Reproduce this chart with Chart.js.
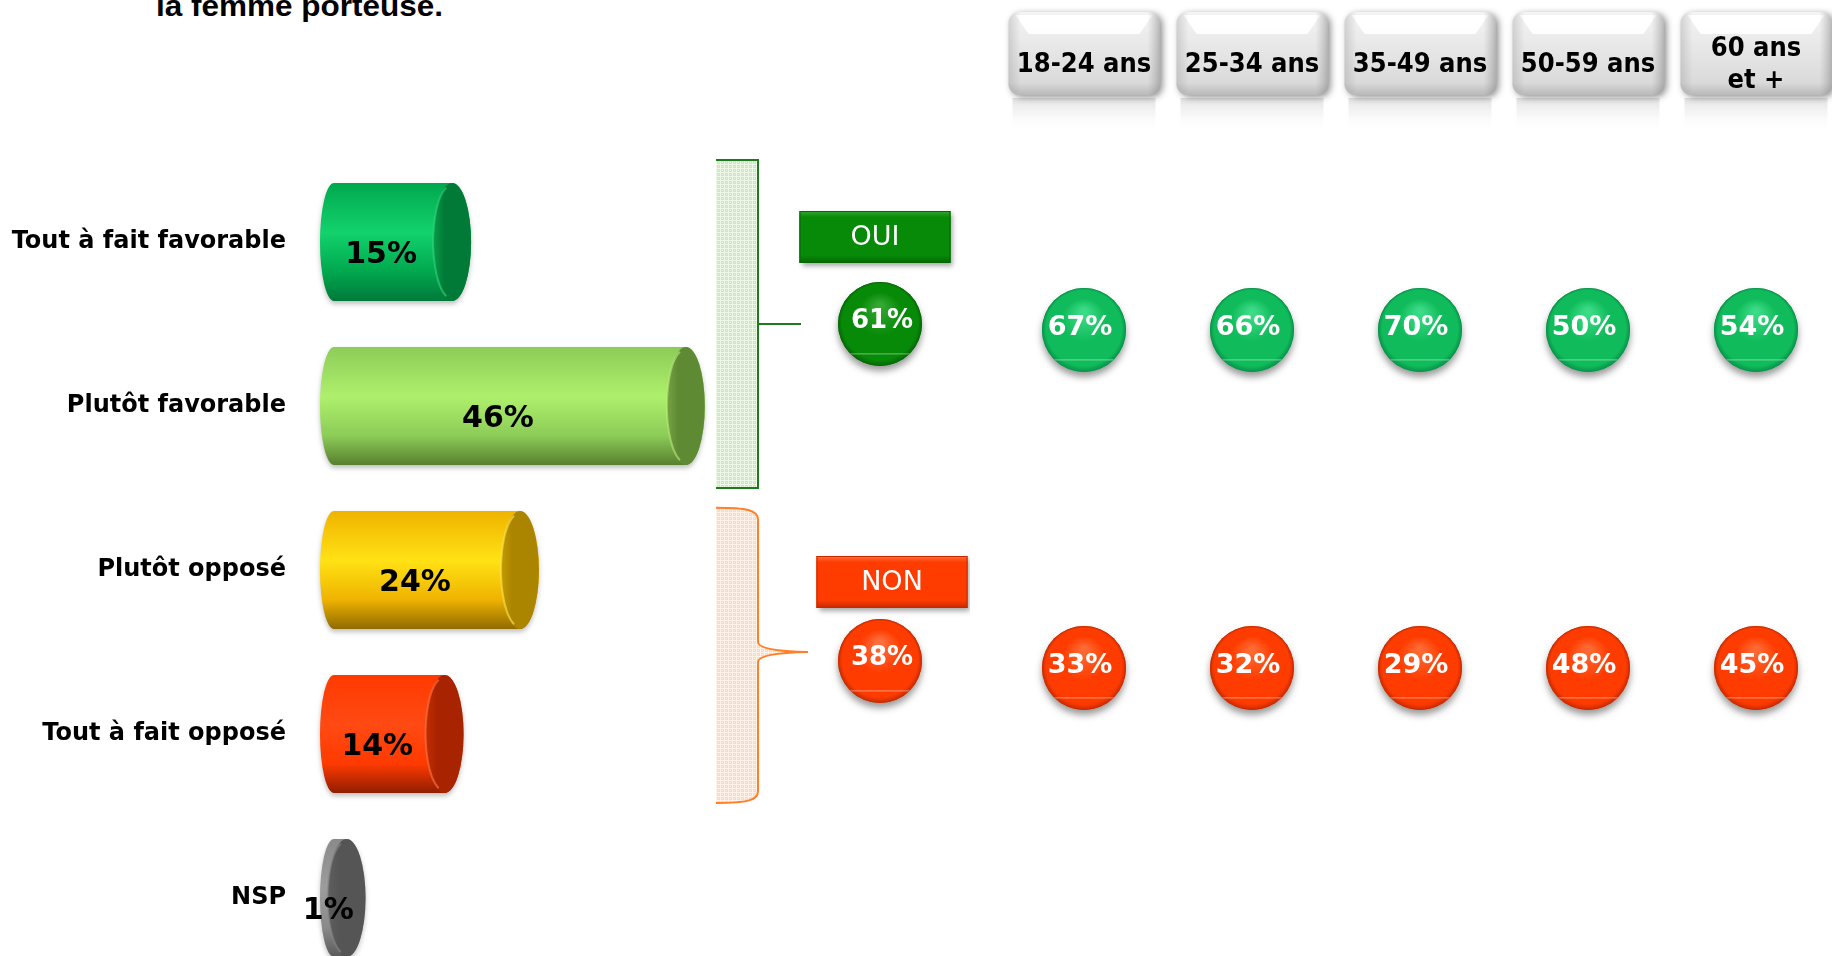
<!DOCTYPE html>
<html><head><meta charset="utf-8">
<script src="https://cdn.jsdelivr.net/npm/chart.js@4.4.1/dist/chart.umd.min.js"></script>
<style>
html,body{margin:0;padding:0;background:#fff;width:1832px;height:956px;overflow:hidden;position:relative;}
#title{position:absolute;left:156px;top:-11px;font:bold 30px "Liberation Sans",Arial,sans-serif;line-height:34px;color:#000;white-space:nowrap;transform:scaleX(1.05);transform-origin:0 0;}
canvas{position:absolute;top:0;}
</style></head><body>
<div id="title">la femme porteuse.</div>
<canvas id="bars" width="820" height="1000" style="left:0"></canvas>
<canvas id="tot" width="180" height="956" style="left:790px"></canvas>
<canvas id="ages" width="840" height="956" style="left:1000px"></canvas>
<script>
const FONT = '"DejaVu Sans", Verdana, sans-serif';

// ---- data ----
const categories = ['Tout à fait favorable','Plutôt favorable','Plutôt opposé','Tout à fait opposé','NSP'];
const values = [15,46,24,14,1];
const groups = ['OUI','NON'];
const totals = [61,38];
const ageGroups = ['18-24 ans','25-34 ans','35-49 ans','50-59 ans','60 ans\net +'];
const ouiByAge = [67,66,70,50,54];
const nonByAge = [33,32,29,48,45];

// ---- styles ----
const barColors = [
 {top:'#00a84e', mid:'#12d26c', bot:'#00793a', cap:'#007a36', capHi:'#0a9c4a', rim:'#33d57c'},
 {top:'#8ccc58', mid:'#aef06c', bot:'#587f2e', cap:'#5f8a34', capHi:'#74a443', rim:'#b9ec7c'},
 {top:'#efb300', mid:'#ffe214', bot:'#8f6a00', cap:'#ab8400', capHi:'#c49c00', rim:'#ffe45a'},
 {top:'#ff3a00', mid:'#ff4a14', bot:'#8f1e00', cap:'#a82300', capHi:'#c42c00', rim:'#ff7a4a'},
 {top:'#8a8a8a', mid:'#9c9c9c', bot:'#5a5a5a', cap:'#555555', capHi:'#5f5f5f', rim:'#8c8c8c'}
];
const groupColors = [
 {base:'#078a07', light:'#33a833', dark:'#056605'},
 {base:'#ff3c00', light:'#ff7040', dark:'#c42a00'}
];
const ballColors = [
 {base:'#0fbb5a', light:'#3ddc88', dark:'#08924a'},
 {base:'#ff3c00', light:'#ff6a34', dark:'#c62a00'}
];
const boxOffsets = [{dx:-5,dy:-87},{dx:12,dy:-79}];

function pattern(ctx,bg,fg){
  const c=document.createElement('canvas'); c.width=4; c.height=4;
  const g=c.getContext('2d'); g.fillStyle=bg; g.fillRect(0,0,4,4);
  g.fillStyle=fg; g.fillRect(0,0,4,1); g.fillRect(0,0,1,4); g.fillRect(2,2,1,1);
  return ctx.createPattern(c,'repeat');
}

const cylinderPlugin = {
  id:'cyl',
  afterDatasetsDraw(chart){
    const ctx=chart.ctx, meta=chart.getDatasetMeta(0);
    meta.data.forEach((el,i)=>{
      const st=barColors[i];
      const x0=el.base, x1=el.x, yc=el.y, h=el.height;
      const ry=h/2, rx=19, top=yc-ry, bot=yc+ry, lc=x0-5;
      ctx.save();
      ctx.shadowColor='rgba(0,0,0,0.25)'; ctx.shadowBlur=5; ctx.shadowOffsetY=3;
      const g=ctx.createLinearGradient(0,top,0,bot);
      g.addColorStop(0,st.top); g.addColorStop(0.42,st.mid); g.addColorStop(0.75,st.top); g.addColorStop(1,st.bot);
      ctx.beginPath();
      ctx.moveTo(lc,top); ctx.lineTo(x1,top);
      ctx.ellipse(x1,yc,rx,ry,0,-Math.PI/2,Math.PI/2);
      ctx.lineTo(lc,bot);
      ctx.ellipse(lc,yc,14,ry,0,Math.PI/2,Math.PI*1.5);
      ctx.closePath(); ctx.fillStyle=g; ctx.fill();
      ctx.restore();
      ctx.save();
      const cg=ctx.createLinearGradient(x1-rx,0,x1+rx,0);
      cg.addColorStop(0,st.capHi); cg.addColorStop(0.3,st.cap); cg.addColorStop(1,st.cap);
      ctx.beginPath(); ctx.ellipse(x1,yc,rx,ry,0,0,Math.PI*2); ctx.fillStyle=cg; ctx.fill();
      ctx.beginPath(); ctx.ellipse(x1,yc,rx,ry-2,0,Math.PI*0.6,Math.PI*1.4);
      ctx.strokeStyle=st.rim; ctx.globalAlpha=0.6; ctx.lineWidth=2; ctx.stroke();
      ctx.restore();
      ctx.save();
      ctx.font='bold 30px '+FONT; ctx.fillStyle='#000'; ctx.textAlign='center'; ctx.textBaseline='middle';
      ctx.fillText(values[i]+'%',(x0-19+x1)/2-5,yc+13);
      ctx.restore();
    });
  }
};

const bracketPlugin = {
  id:'brk',
  afterDraw(chart){
    const ctx=chart.ctx, ys=chart.scales.y, ca=chart.chartArea;
    const c=categories.map((_,i)=>ys.getPixelForValue(i));
    const band=c[1]-c[0];
    const L=ca.right, R=ca.right+42;
    const gT=c[0]-band/2, gB=c[1]+band/2, gM=(c[0]+c[1])/2;
    ctx.save();
    ctx.fillStyle=pattern(ctx,'#cbe9b5','#eef8e6');
    ctx.fillRect(L,gT,R-L,gB-gT);
    ctx.strokeStyle='#1d7a1d'; ctx.lineWidth=2;
    ctx.beginPath(); ctx.moveTo(L,gT); ctx.lineTo(R,gT); ctx.lineTo(R,gB); ctx.lineTo(L,gB); ctx.stroke();
    ctx.beginPath(); ctx.moveTo(R,gM); ctx.lineTo(R+43,gM); ctx.stroke();
    const oT=c[2]-band*0.38, oB=c[3]+band*0.42, oM=(c[2]+c[3])/2;
    ctx.beginPath();
    ctx.moveTo(L,oT); ctx.bezierCurveTo(L+30,oT,R,oT+2,R,oT+12);
    ctx.lineTo(R,oM-10); ctx.quadraticCurveTo(R,oM-1,R+50,oM); ctx.quadraticCurveTo(R,oM+1,R,oM+10);
    ctx.lineTo(R,oB-12); ctx.bezierCurveTo(R,oB-2,L+30,oB,L,oB);
    ctx.fillStyle=pattern(ctx,'#fcd9bd','#fff2e8'); ctx.fill();
    ctx.strokeStyle='#ff7f2a'; ctx.lineWidth=2; ctx.stroke();
    ctx.restore();
  }
};

function drawBall(ctx,x,y,r,col){
  ctx.save();
  ctx.shadowColor='rgba(0,0,0,0.4)'; ctx.shadowBlur=7; ctx.shadowOffsetY=5;
  ctx.beginPath(); ctx.arc(x,y,r,0,Math.PI*2); ctx.fillStyle=col.dark; ctx.fill();
  ctx.restore();
  const g=ctx.createRadialGradient(x,y-r*0.45,r*0.05,x,y,r);
  g.addColorStop(0,col.light); g.addColorStop(0.5,col.base); g.addColorStop(0.9,col.base); g.addColorStop(1,col.dark);
  ctx.beginPath(); ctx.arc(x,y,r,0,Math.PI*2); ctx.fillStyle=g; ctx.fill();
  ctx.save(); ctx.beginPath(); ctx.arc(x,y,r,0,Math.PI*2); ctx.clip();
  ctx.fillStyle='rgba(255,255,255,0.45)'; ctx.fillRect(x-r,y+r*0.7,2*r,1);
  ctx.restore();
}

const totalsPlugin = {
  id:'tot',
  afterDatasetsDraw(chart){
    const ctx=chart.ctx, meta=chart.getDatasetMeta(0);
    meta.data.forEach((pt,i)=>{
      const col=groupColors[i], off=boxOffsets[i];
      const bx=pt.x+off.dx, by=pt.y+off.dy, w=151, h=52;
      ctx.save();
      ctx.shadowColor='rgba(0,0,0,0.35)'; ctx.shadowBlur=5; ctx.shadowOffsetX=2; ctx.shadowOffsetY=3;
      ctx.fillStyle=col.base; ctx.fillRect(bx-w/2,by-h/2,w,h);
      ctx.restore();
      const g=ctx.createLinearGradient(0,by-h/2,0,by+h/2);
      g.addColorStop(0,col.light); g.addColorStop(0.12,col.base); g.addColorStop(0.85,col.base); g.addColorStop(1,col.dark);
      ctx.fillStyle=g; ctx.fillRect(bx-w/2,by-h/2,w,h);
      ctx.strokeStyle=col.dark; ctx.lineWidth=1; ctx.strokeRect(bx-w/2+0.5,by-h/2+0.5,w-1,h-1);
      ctx.font='27px '+FONT; ctx.fillStyle='#fff'; ctx.textAlign='center'; ctx.textBaseline='middle';
      ctx.fillText(groups[i],bx,by+1);
      drawBall(ctx,pt.x,pt.y,42,col);
      ctx.font='bold 26px '+FONT; ctx.fillStyle='#fff';
      ctx.fillText(totals[i]+'%',pt.x+2,pt.y-3);
    });
  }
};

function drawHeader(ctx,cx,label){
  const w=151,h=83,x=cx-w/2,y=12,r=11;
  const rg=ctx.createLinearGradient(0,y+h+3,0,y+h+38);
  rg.addColorStop(0,'rgba(170,170,170,0.35)'); rg.addColorStop(1,'rgba(255,255,255,0)');
  ctx.fillStyle=rg; ctx.fillRect(x+4,y+h+3,w-8,35);
  ctx.save();
  ctx.shadowColor='rgba(0,0,0,0.45)'; ctx.shadowBlur=7; ctx.shadowOffsetX=3; ctx.shadowOffsetY=2;
  const g=ctx.createLinearGradient(0,y,0,y+h);
  g.addColorStop(0,'#f4f4f4'); g.addColorStop(0.5,'#e5e5e5'); g.addColorStop(0.85,'#dadada'); g.addColorStop(1,'#b9b9b9');
  ctx.beginPath(); ctx.roundRect(x,y,w,h,r); ctx.fillStyle=g; ctx.fill();
  ctx.restore();
  ctx.save();
  ctx.beginPath(); ctx.moveTo(x+7,y+3); ctx.lineTo(x+w-7,y+3); ctx.lineTo(x+w-20,y+22); ctx.lineTo(x+20,y+22); ctx.closePath();
  ctx.fillStyle='rgba(255,255,255,0.95)'; ctx.fill();
  const sg=ctx.createLinearGradient(x,0,x+w,0);
  sg.addColorStop(0,'rgba(150,150,150,0.35)'); sg.addColorStop(0.08,'rgba(150,150,150,0)');
  sg.addColorStop(0.92,'rgba(150,150,150,0)'); sg.addColorStop(1,'rgba(120,120,120,0.45)');
  ctx.beginPath(); ctx.roundRect(x,y,w,h,r); ctx.fillStyle=sg; ctx.fill();
  ctx.restore();
  const lines=label.split('\n');
  ctx.save();
  ctx.font='bold 27px '+FONT; ctx.fillStyle='#000'; ctx.textAlign='center'; ctx.textBaseline='middle';
  const lh=32, y0=y+h/2+11-(lines.length-1)*lh/2;
  lines.forEach((t,k)=>{ ctx.save(); ctx.translate(cx,y0+k*lh); ctx.scale(0.9,1); ctx.fillText(t,0,0); ctx.restore(); });
  ctx.restore();
}

const agesPlugin = {
  id:'ages',
  afterDatasetsDraw(chart){
    const ctx=chart.ctx, xs=chart.scales.x;
    ageGroups.forEach((a,i)=>drawHeader(ctx,xs.getPixelForValue(i),a));
    const series=[ouiByAge,nonByAge];
    chart.data.datasets.forEach((ds,d)=>{
      chart.getDatasetMeta(d).data.forEach((pt,i)=>{
        drawBall(ctx,pt.x,pt.y,42,ballColors[d]);
        ctx.font='bold 27px '+FONT; ctx.fillStyle='#fff'; ctx.textAlign='center'; ctx.textBaseline='middle';
        ctx.fillText(series[d][i]+'%',pt.x-4,pt.y-2);
      });
    });
  }
};

new Chart(document.getElementById('bars'),{
  type:'bar',
  data:{labels:categories,datasets:[{data:values,backgroundColor:'rgba(0,0,0,0)',borderWidth:0,barPercentage:0.72,categoryPercentage:1}]},
  options:{indexAxis:'y',responsive:false,animation:false,events:[],
    layout:{padding:{left:0,right:104,top:160,bottom:20}},
    plugins:{legend:{display:false},tooltip:{enabled:false}},
    scales:{
      x:{min:0,max:50,display:false},
      y:{grid:{display:false,drawTicks:false},border:{display:false},
         ticks:{padding:53,color:'#000',font:{family:'"DejaVu Sans", Verdana, sans-serif',size:24,weight:'bold'}},
         afterFit(s){s.width=339; s.paddingTop=0; s.paddingBottom=0;}}
    }},
  plugins:[cylinderPlugin,bracketPlugin]
});

new Chart(document.getElementById('tot'),{
  type:'scatter',
  data:{datasets:[{data:groups.map(g=>({x:'Ensemble',y:g})),pointRadius:0}]},
  options:{responsive:false,animation:false,events:[],
    layout:{padding:{top:324,bottom:295,left:0,right:0}},
    plugins:{legend:{display:false},tooltip:{enabled:false}},
    scales:{x:{type:'category',labels:['Ensemble'],offset:true,display:false},
            y:{type:'category',labels:groups,offset:false,display:false}}},
  plugins:[totalsPlugin]
});

new Chart(document.getElementById('ages'),{
  type:'scatter',
  data:{datasets:[
    {label:'OUI',data:ageGroups.map(a=>({x:a,y:'OUI'})),pointRadius:0},
    {label:'NON',data:ageGroups.map(a=>({x:a,y:'NON'})),pointRadius:0}]},
  options:{responsive:false,animation:false,events:[],
    layout:{padding:{top:330,bottom:288,left:0,right:0}},
    plugins:{legend:{display:false},tooltip:{enabled:false}},
    scales:{x:{type:'category',labels:ageGroups,offset:true,display:false},
            y:{type:'category',labels:groups,offset:false,display:false}}},
  plugins:[agesPlugin]
});
</script></body></html>
